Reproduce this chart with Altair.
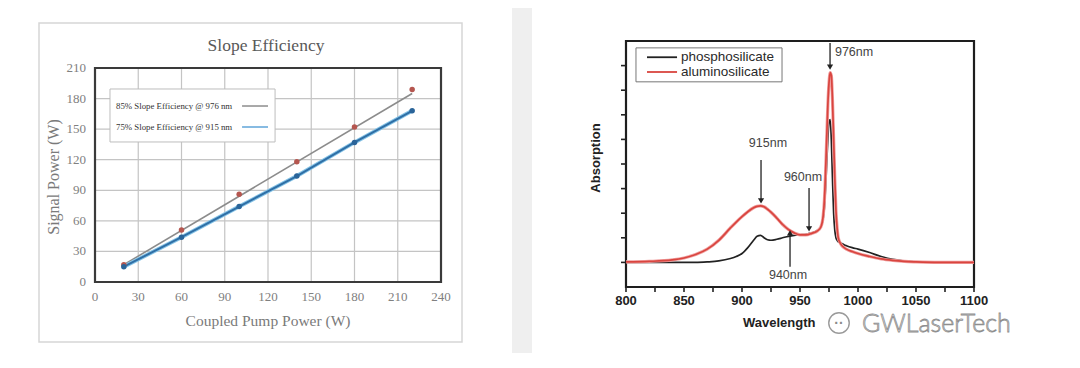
import altair as alt
import pandas as pd

# ---------------- data: left panel (slope efficiency) ----------------
pump_power = [20, 60, 100, 140, 180, 220]
signal_976 = [17, 51, 86, 118, 152, 189]
signal_915 = [15, 44, 74, 104, 137, 168]
fit976_x = [20, 220]
fit976_y = [17, 185]
left_ticks_x = [0, 30, 60, 90, 120, 150, 180, 210, 240]
left_ticks_y = [0, 30, 60, 90, 120, 150, 180, 210]
legend_left_labels = ["85%  Slope Efficiency @ 976 nm", "75%  Slope Efficiency @ 915 nm"]

# ---------------- data: right panel (absorption) ----------------
wavelength = [800, 820, 840, 850, 860, 870, 880, 890, 895, 900, 905, 910, 913, 916, 919, 922,
              925, 930, 935, 940, 945, 950, 955, 960, 965, 968, 970, 971, 972, 973, 974, 975,
              976, 977, 978, 979, 980, 981, 982, 983, 985, 988, 990, 995, 1000, 1010, 1020,
              1030, 1040, 1050, 1070, 1100]
alumino = [0.01, 0.02, 0.05, 0.09, 0.16, 0.27, 0.45, 0.70, 0.82, 0.93, 1.03, 1.11, 1.14, 1.15,
           1.13, 1.08, 1.02, 0.90, 0.77, 0.67, 0.60, 0.56, 0.56, 0.59, 0.64, 0.72, 0.95, 1.25,
           1.80, 2.50, 3.20, 3.65, 3.86, 3.80, 3.30, 2.50, 1.70, 1.05, 0.70, 0.50, 0.38, 0.30,
           0.27, 0.22, 0.18, 0.12, 0.07, 0.04, 0.02, 0.01, 0.00, 0.00]
phospho = [0.00, 0.00, 0.00, 0.00, 0.00, 0.01, 0.03, 0.08, 0.12, 0.18, 0.30, 0.45, 0.53, 0.55,
           0.50, 0.46, 0.45, 0.47, 0.50, 0.53, 0.55, 0.56, 0.57, 0.60, 0.65, 0.72, 0.90, 1.10,
           1.50, 2.00, 2.50, 2.85, 2.90, 2.50, 1.70, 1.00, 0.65, 0.50, 0.45, 0.42, 0.40, 0.36,
           0.34, 0.30, 0.27, 0.20, 0.12, 0.06, 0.03, 0.01, 0.00, 0.00]
right_ticks_x = list(range(800, 1101, 25))
right_labels_x = list(range(800, 1101, 50))
right_ticks_y = [0, 0.5, 1, 1.5, 2, 2.5, 3, 3.5, 4]
arrow_x = [916.4, 957.8, 941.4, 975.9]
arrow_tail = [2.08, 1.51, -0.09, 4.46]
arrow_tip = [1.25, 0.68, 0.60, 3.97]
arrow_dir = ["down", "down", "up", "down"]
ann_text = ["915nm", "960nm", "940nm", "976nm"]
ann_x = [922.4, 952.6, 939.7, 996.6]
ann_y = [2.43, 1.74, -0.26, 4.28]
series_names = ["phosphosilicate", "aluminosilicate"]
series_colors = ["#222222", "#d9453f"]

W, H = 1064, 345
one = pd.DataFrame({"a": [0]})

# ---------------- panels (decorative backgrounds) ----------------
panel_l = alt.Chart(one).mark_rect(color="white").encode(
    x=alt.value(0), x2=alt.value(504), y=alt.value(0), y2=alt.value(H))
panel_r = alt.Chart(one).mark_rect(color="white").encode(
    x=alt.value(524), x2=alt.value(W), y=alt.value(0), y2=alt.value(H))
picbox = alt.Chart(one).mark_rect(fill="white", stroke="#d6d6d6", strokeWidth=1.5).encode(
    x=alt.value(31), x2=alt.value(454), y=alt.value(15), y2=alt.value(334))

# ---------------- left chart ----------------
xL = alt.Scale(domain=[0, 240], range=[87, 433], nice=False, zero=False)
yL = alt.Scale(domain=[0, 210], range=[274, 60], nice=False, zero=False)
serif = "Liberation Serif"

frameL_df = pd.DataFrame({"x0": [0], "x1": [240], "y0": [0], "y1": [210]})
frameL = alt.Chart(frameL_df).mark_rect(fill="white").encode(
    x=alt.X("x0:Q", scale=xL, axis=None), x2="x1:Q",
    y=alt.Y("y0:Q", scale=yL, axis=None), y2="y1:Q")

gx_df = pd.DataFrame({"v": left_ticks_x[1:-1], "lo": 0, "hi": 210})
gridx = alt.Chart(gx_df).mark_rule(color="#c4c4c4", strokeWidth=1.2).encode(
    x=alt.X("v:Q", scale=xL, axis=None), y=alt.Y("lo:Q", scale=yL, axis=None), y2="hi:Q")
gy_df = pd.DataFrame({"v": left_ticks_y[1:-1], "lo": 0, "hi": 240})
gridy = alt.Chart(gy_df).mark_rule(color="#c4c4c4", strokeWidth=1.2).encode(
    y=alt.Y("v:Q", scale=yL, axis=None), x=alt.X("lo:Q", scale=xL, axis=None), x2="hi:Q")
frameL_line = alt.Chart(frameL_df).mark_rect(fill=None, stroke="#3a3a3a", strokeWidth=2.2).encode(
    x=alt.X("x0:Q", scale=xL, axis=None), x2="x1:Q",
    y=alt.Y("y0:Q", scale=yL, axis=None), y2="y1:Q")

xlabL = alt.Chart(pd.DataFrame({"v": left_ticks_x})).mark_text(
    font=serif, fontSize=13, color="#808080", baseline="middle").encode(
    x=alt.X("v:Q", scale=xL, axis=None), y=alt.value(289), text=alt.Text("v:Q", format="d"))
ylabL = alt.Chart(pd.DataFrame({"v": left_ticks_y})).mark_text(
    font=serif, fontSize=13, color="#808080", baseline="middle", align="right").encode(
    y=alt.Y("v:Q", scale=yL, axis=None), x=alt.value(78), text=alt.Text("v:Q", format="d"))

fit_df = pd.DataFrame({"x": fit976_x, "y": fit976_y})
fit_line = alt.Chart(fit_df).mark_line(color="#8c8c8c", strokeWidth=1.6).encode(
    x=alt.X("x:Q", scale=xL, axis=None), y=alt.Y("y:Q", scale=yL, axis=None))
d915 = pd.DataFrame({"x": pump_power, "y": signal_915})
d976 = pd.DataFrame({"x": pump_power, "y": signal_976})
line915_halo = alt.Chart(d915).mark_line(color="#86c3e6", strokeWidth=4).encode(
    x=alt.X("x:Q", scale=xL, axis=None), y=alt.Y("y:Q", scale=yL, axis=None))
line915 = alt.Chart(d915).mark_line(color="#2f6fa6", strokeWidth=2).encode(
    x=alt.X("x:Q", scale=xL, axis=None), y=alt.Y("y:Q", scale=yL, axis=None))
pts976 = alt.Chart(d976).mark_point(filled=True, color="#b5564f", size=30, opacity=1).encode(
    x=alt.X("x:Q", scale=xL, axis=None), y=alt.Y("y:Q", scale=yL, axis=None))
pts915 = alt.Chart(d915).mark_point(filled=True, color="#2a6499", size=30, opacity=1).encode(
    x=alt.X("x:Q", scale=xL, axis=None), y=alt.Y("y:Q", scale=yL, axis=None))

legL_box_df = pd.DataFrame({"x0": [10.4], "x1": [124.9], "y0": [137.4], "y1": [189.4]})
legL_box = alt.Chart(legL_box_df).mark_rect(fill="white", stroke="#bdbdbd", strokeWidth=1).encode(
    x=alt.X("x0:Q", scale=xL, axis=None), x2="x1:Q",
    y=alt.Y("y0:Q", scale=yL, axis=None), y2="y1:Q")
legL_df = pd.DataFrame({"t": legend_left_labels, "tx": [14.6, 14.6], "y": [172.7, 152.1],
                        "lx0": [102, 102], "lx1": [120, 120], "c": ["#8c8c8c", "#5fa4d8"]})
legL_text = alt.Chart(legL_df).mark_text(font=serif, fontSize=8.8, color="#333333",
                                         align="left", baseline="middle").encode(
    x=alt.X("tx:Q", scale=xL, axis=None), y=alt.Y("y:Q", scale=yL, axis=None), text="t:N")
legL_lines = alt.Chart(legL_df).mark_rule(strokeWidth=1.5).encode(
    x=alt.X("lx0:Q", scale=xL, axis=None), x2="lx1:Q", y=alt.Y("y:Q", scale=yL, axis=None),
    color=alt.Color("c:N", scale=None, legend=None))

titleL = alt.Chart(pd.DataFrame({"t": ["Slope Efficiency"]})).mark_text(
    font=serif, fontSize=17.5, color="#595959").encode(
    x=alt.value(258), y=alt.value(38), text="t:N")
ytitleL = alt.Chart(pd.DataFrame({"t": ["Signal Power (W)"]})).mark_text(
    font=serif, fontSize=16, color="#7a7a7a", angle=270).encode(
    x=alt.value(46), y=alt.value(169), text="t:N")
xtitleL = alt.Chart(pd.DataFrame({"t": ["Coupled Pump Power (W)"]})).mark_text(
    font=serif, fontSize=15.5, color="#7a7a7a").encode(
    x=alt.value(260), y=alt.value(313), text="t:N")

left = alt.layer(frameL, gridx, gridy, frameL_line, xlabL, ylabL, fit_line, line915_halo,
                 line915, pts976, pts915, legL_box, legL_lines, legL_text,
                 titleL, ytitleL, xtitleL)

# ---------------- right chart ----------------
xR = alt.Scale(domain=[800, 1100], range=[618, 966], nice=False, zero=False)
yR = alt.Scale(domain=[-0.5, 4.5], range=[279, 33], nice=False, zero=False)
sans = "Liberation Sans"

frameR_df = pd.DataFrame({"x0": [800], "x1": [1100], "y0": [-0.5], "y1": [4.5]})
frameR = alt.Chart(frameR_df).mark_rect(fill=None, stroke="#1e1e1e", strokeWidth=2.2).encode(
    x=alt.X("x0:Q", scale=xR, axis=None), x2="x1:Q",
    y=alt.Y("y0:Q", scale=yR, axis=None), y2="y1:Q")
xticksR = alt.Chart(pd.DataFrame({"v": right_ticks_x})).mark_rule(
    color="#222222", strokeWidth=1.6).encode(
    x=alt.X("v:Q", scale=xR, axis=None), y=alt.value(279), y2=alt.value(284))
yticksR = alt.Chart(pd.DataFrame({"v": right_ticks_y})).mark_rule(
    color="#222222", strokeWidth=1.6).encode(
    y=alt.Y("v:Q", scale=yR, axis=None), x=alt.value(613), x2=alt.value(618))
xlabR = alt.Chart(pd.DataFrame({"v": right_labels_x})).mark_text(
    font=sans, fontSize=13, fontWeight="bold", color="#222222", baseline="middle").encode(
    x=alt.X("v:Q", scale=xR, axis=None), y=alt.value(293), text=alt.Text("v:Q", format="d"))

curve_b = alt.Chart(pd.DataFrame({"x": wavelength, "y": phospho})).mark_line(
    color=series_colors[0], strokeWidth=1.7, interpolate="monotone").encode(
    x=alt.X("x:Q", scale=xR, axis=None), y=alt.Y("y:Q", scale=yR, axis=None))
curve_r_halo = alt.Chart(pd.DataFrame({"x": wavelength, "y": alumino})).mark_line(
    color="#f0a0a0", strokeWidth=3.2, interpolate="monotone").encode(
    x=alt.X("x:Q", scale=xR, axis=None), y=alt.Y("y:Q", scale=yR, axis=None))
curve_r = alt.Chart(pd.DataFrame({"x": wavelength, "y": alumino})).mark_line(
    color=series_colors[1], strokeWidth=1.7, interpolate="monotone").encode(
    x=alt.X("x:Q", scale=xR, axis=None), y=alt.Y("y:Q", scale=yR, axis=None))

arr_df = pd.DataFrame({"x": arrow_x, "y0": arrow_tail, "y1": arrow_tip, "d": arrow_dir})
arr_rules = alt.Chart(arr_df).mark_rule(color="#222222", strokeWidth=1.3).encode(
    x=alt.X("x:Q", scale=xR, axis=None), y=alt.Y("y0:Q", scale=yR, axis=None), y2="y1:Q")
arr_heads = alt.Chart(arr_df).mark_point(filled=True, color="#222222", size=38, opacity=1).encode(
    x=alt.X("x:Q", scale=xR, axis=None), y=alt.Y("y1:Q", scale=yR, axis=None),
    shape=alt.Shape("d:N", scale=alt.Scale(domain=["down", "up"],
                                           range=["triangle-down", "triangle-up"]), legend=None))
ann = alt.Chart(pd.DataFrame({"t": ann_text, "x": ann_x, "y": ann_y})).mark_text(
    font=sans, fontSize=12.5, color="#444444").encode(
    x=alt.X("x:Q", scale=xR, axis=None), y=alt.Y("y:Q", scale=yR, axis=None), text="t:N")

legR_box_df = pd.DataFrame({"x0": [808.6], "x1": [934.5], "y0": [3.67], "y1": [4.36]})
legR_box = alt.Chart(legR_box_df).mark_rect(fill="white", stroke="#777777", strokeWidth=1).encode(
    x=alt.X("x0:Q", scale=xR, axis=None), x2="x1:Q",
    y=alt.Y("y0:Q", scale=yR, axis=None), y2="y1:Q")
legR_df = pd.DataFrame({"t": series_names, "c": series_colors, "y": [4.17, 3.87],
                        "lx0": [818.1, 818.1], "lx1": [844.0, 844.0], "tx": [847.4, 847.4]})
legR_lines = alt.Chart(legR_df).mark_rule(strokeWidth=1.8).encode(
    x=alt.X("lx0:Q", scale=xR, axis=None), x2="lx1:Q", y=alt.Y("y:Q", scale=yR, axis=None),
    color=alt.Color("c:N", scale=None, legend=None))
legR_text = alt.Chart(legR_df).mark_text(font=sans, fontSize=13.5, color="#2a2a2a",
                                         align="left", baseline="middle").encode(
    x=alt.X("tx:Q", scale=xR, axis=None), y=alt.Y("y:Q", scale=yR, axis=None), text="t:N")

ytitleR = alt.Chart(pd.DataFrame({"t": ["Absorption"]})).mark_text(
    font=sans, fontSize=13, fontWeight="bold", color="#222222", angle=270).encode(
    x=alt.value(588), y=alt.value(150), text="t:N")
xtitleR = alt.Chart(pd.DataFrame({"t": ["Wavelength"]})).mark_text(
    font=sans, fontSize=13, fontWeight="bold", color="#222222", align="left",
    baseline="middle").encode(x=alt.value(735), y=alt.value(315), text="t:N")

# watermark
wm_icon = alt.Chart(one).mark_point(filled=True, fill="white", stroke="#9a9a9a",
                                    strokeWidth=1.4, size=420, opacity=1).encode(
    x=alt.value(831), y=alt.value(315))
wm_eyes = alt.Chart(pd.DataFrame({"t": ["··"]})).mark_text(
    font=sans, fontSize=14, color="#8a8a8a", fontWeight="bold").encode(
    x=alt.value(831), y=alt.value(316), text="t:N")
wm_text = alt.Chart(pd.DataFrame({"t": ["GWLaserTech"]})).mark_text(
    font="Lato", fontSize=25, fontWeight=300, fill="#f4f4f4", stroke="#8e8e8e",
    strokeWidth=0.8, align="left", baseline="middle").encode(
    x=alt.value(854), y=alt.value(316), text="t:N")

right = alt.layer(frameR, xticksR, yticksR, xlabR, curve_b, curve_r_halo, curve_r,
                  arr_rules, arr_heads, ann, legR_box, legR_lines, legR_text,
                  ytitleR, xtitleR, wm_icon, wm_eyes, wm_text)

chart = alt.layer(panel_l, panel_r, picbox, left, right).resolve_scale(
    x="independent", y="independent").properties(
    width=W, height=H, padding=0, autosize=alt.AutoSizeParams(type="none"),
    background="#efefef").configure_view(stroke=None)

chart.save("out.html", embed_options={"renderer": "svg", "actions": False})
